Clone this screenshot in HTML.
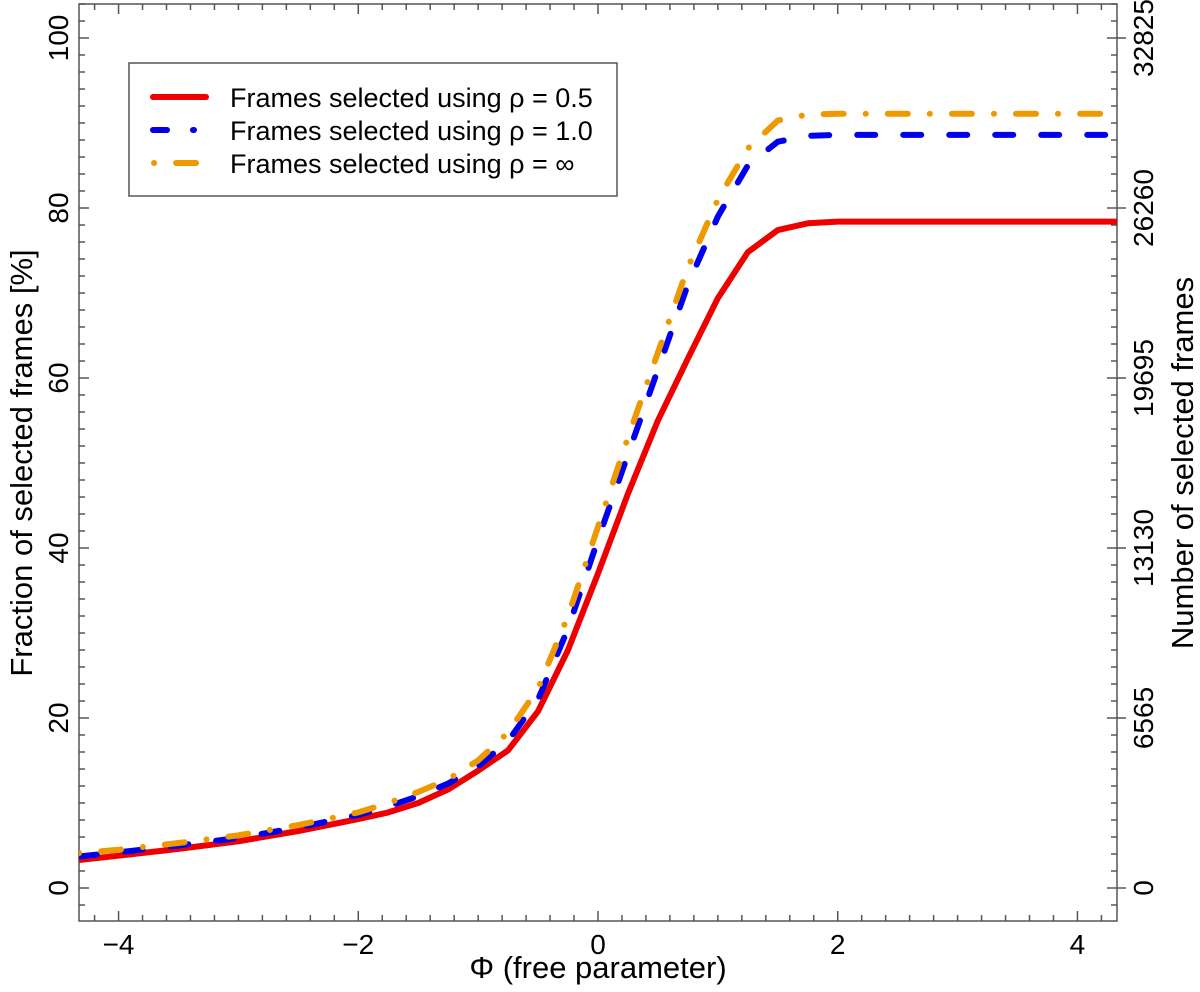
<!DOCTYPE html>
<html><head><meta charset="utf-8"><style>
html,body{margin:0;padding:0;background:#fff;}
svg{display:block;font-family:"Liberation Sans",Helvetica,Arial,sans-serif;}
</style></head><body>
<svg id="chart" width="1200" height="992" viewBox="0 0 1200 992" xmlns="http://www.w3.org/2000/svg">
<g id="axes"></g>
<g id="series"></g>
<g id="legend">
<rect x="129" y="63" width="488" height="133" fill="#fff" stroke="#555" stroke-width="1.5"/>
<line x1="153" y1="97" x2="206" y2="97" stroke="#ee0000" stroke-width="6" stroke-linecap="round"/>
<line x1="153" y1="130" x2="206" y2="130" stroke="#0000ee" stroke-width="6" stroke-linecap="round" stroke-dasharray="14 26 1 30"/>
<line x1="154" y1="163" x2="200" y2="163" stroke="#ee9900" stroke-width="6" stroke-linecap="round" stroke-dasharray="0.1 22 20 30"/>
<text x="230" y="107" font-size="27">Frames selected using ρ = 0.5</text>
<text x="230" y="140" font-size="27">Frames selected using ρ = 1.0</text>
<text x="230" y="173" font-size="27">Frames selected using ρ = ∞</text>
</g>
</svg>
<script>
const xValues = [-4.33,-4,-3.5,-3,-2.5,-2,-1.75,-1.5,-1.25,-1,-0.75,-0.5,-0.25,0,0.25,0.5,0.75,1,1.25,1.5,1.75,2,2.5,3,3.5,4,4.33];
const redValues = [3.3,3.8,4.6,5.5,6.7,8.1,8.9,10,11.6,13.8,16.2,20.8,28,37,46.4,55,62.3,69.4,74.8,77.4,78.2,78.4,78.4,78.4,78.4,78.4,78.4];
const blueValues = [3.7,4.2,5.0,5.9,7.1,8.6,9.6,10.8,12.3,14.3,17.3,22.2,30.5,41,51,61,71,79,85,87.8,88.5,88.6,88.6,88.6,88.6,88.6,88.6];
const orangeValues = [4.1,4.5,5.3,6.2,7.4,8.9,10,11.3,12.8,15,18.3,23.5,32,42.5,53,63,73,81,87,90.3,91,91.1,91.1,91.1,91.1,91.1,91.1];
const xTickLabels = ["−4","−2","0","2","4"];
const xTickValues = [-4,-2,0,2,4];
const yTickValues = [0,20,40,60,80,100];
const yRightLabels = ["0","6565","13130","19695","26260","32825"];

const NS="http://www.w3.org/2000/svg";
const L=79,R=1117,T=4,B=921;
const xMin=-4.33,xMax=4.33;
function sx(v){return L+(v-xMin)/(xMax-xMin)*(R-L);}
function sy(v){return 888-v*8.5;}
function mk(tag,attrs,parent){const e=document.createElementNS(NS,tag);for(const k in attrs)e.setAttribute(k,attrs[k]);parent.appendChild(e);return e;}
const axes=document.getElementById('axes');
const series=document.getElementById('series');

const frame=mk('rect',{x:L,y:T,width:R-L,height:B-T,fill:'none',stroke:'#555','stroke-width':1.5},axes);



for(let i=-22;i<=22;i++){const v=i*0.2;if(v<xMin||v>xMax)continue;const x=sx(v);const major=Math.abs(v-Math.round(v/2)*2)<1e-6;const len=major?10:6;
const t1=mk('line',{x1:x,y1:B,x2:x,y2:B-len,stroke:'#555','stroke-width':1.5},axes);


const t2=mk('line',{x1:x,y1:T,x2:x,y2:T+len,stroke:'#555','stroke-width':1.5},axes);

}
xTickValues.forEach((v,i)=>{const t=mk('text',{x:sx(v),y:954,'font-size':28,'text-anchor':'middle'},axes);t.textContent=xTickLabels[i];

});

for(let v=-2;v<=104;v+=2){const y=sy(v);if(y<T||y>B)continue;const major=v%20===0;const len=major?10:6;
const a=mk('line',{x1:L,y1:y,x2:L+len,y2:y,stroke:'#555','stroke-width':1.5},axes);


const b=mk('line',{x1:R,y1:y,x2:R-len,y2:y,stroke:'#555','stroke-width':1.5},axes);


if(major){const c=mk('line',{x1:R,y1:y,x2:R+9,y2:y,stroke:'#555','stroke-width':1.5},axes);

}}
yTickValues.forEach((v,i)=>{const y=sy(v);
const t=mk('text',{x:0,y:0,'font-size':28,'text-anchor':'middle',transform:`translate(68,${y}) rotate(-90)`},axes);t.textContent=String(v);


const r=mk('text',{x:0,y:0,'font-size':28,'text-anchor':'middle',transform:`translate(1153,${y}) rotate(-90)`},axes);r.textContent=yRightLabels[i];

});

const xt=mk('text',{x:598,y:978,'font-size':31,'text-anchor':'middle'},axes);xt.textContent='Φ (free parameter)';


const yt=mk('text',{x:0,y:0,'font-size':31,'text-anchor':'middle',transform:'translate(32,463) rotate(-90)'},axes);yt.textContent='Fraction of selected frames [%]';


const yr=mk('text',{x:0,y:0,'font-size':31,'text-anchor':'middle',transform:'translate(1193,463) rotate(-90)'},axes);yr.textContent='Number of selected frames';



function path(vals){return vals.map((v,i)=>(i?'L':'M')+sx(xValues[i]).toFixed(1)+','+sy(v).toFixed(1)).join(' ');}
const cp=mk('clipPath',{id:'clip'},series);mk('rect',{x:L,y:T,width:R-L,height:B-T},cp);
const pr=mk('path',{d:path(redValues),fill:'none',stroke:'#ee0000','stroke-width':6,'stroke-linejoin':'round','clip-path':'url(#clip)'},series);


const pb=mk('path',{d:path(blueValues),fill:'none',stroke:'#0000ee','stroke-width':6,'stroke-linecap':'round','stroke-dasharray':'18 28','clip-path':'url(#clip)'},series);


const po=mk('path',{d:path(orangeValues),fill:'none',stroke:'#ee9900','stroke-width':6,'stroke-linecap':'round','stroke-dasharray':'0.1 22 20 22','clip-path':'url(#clip)'},series);


</script>
</body></html>
